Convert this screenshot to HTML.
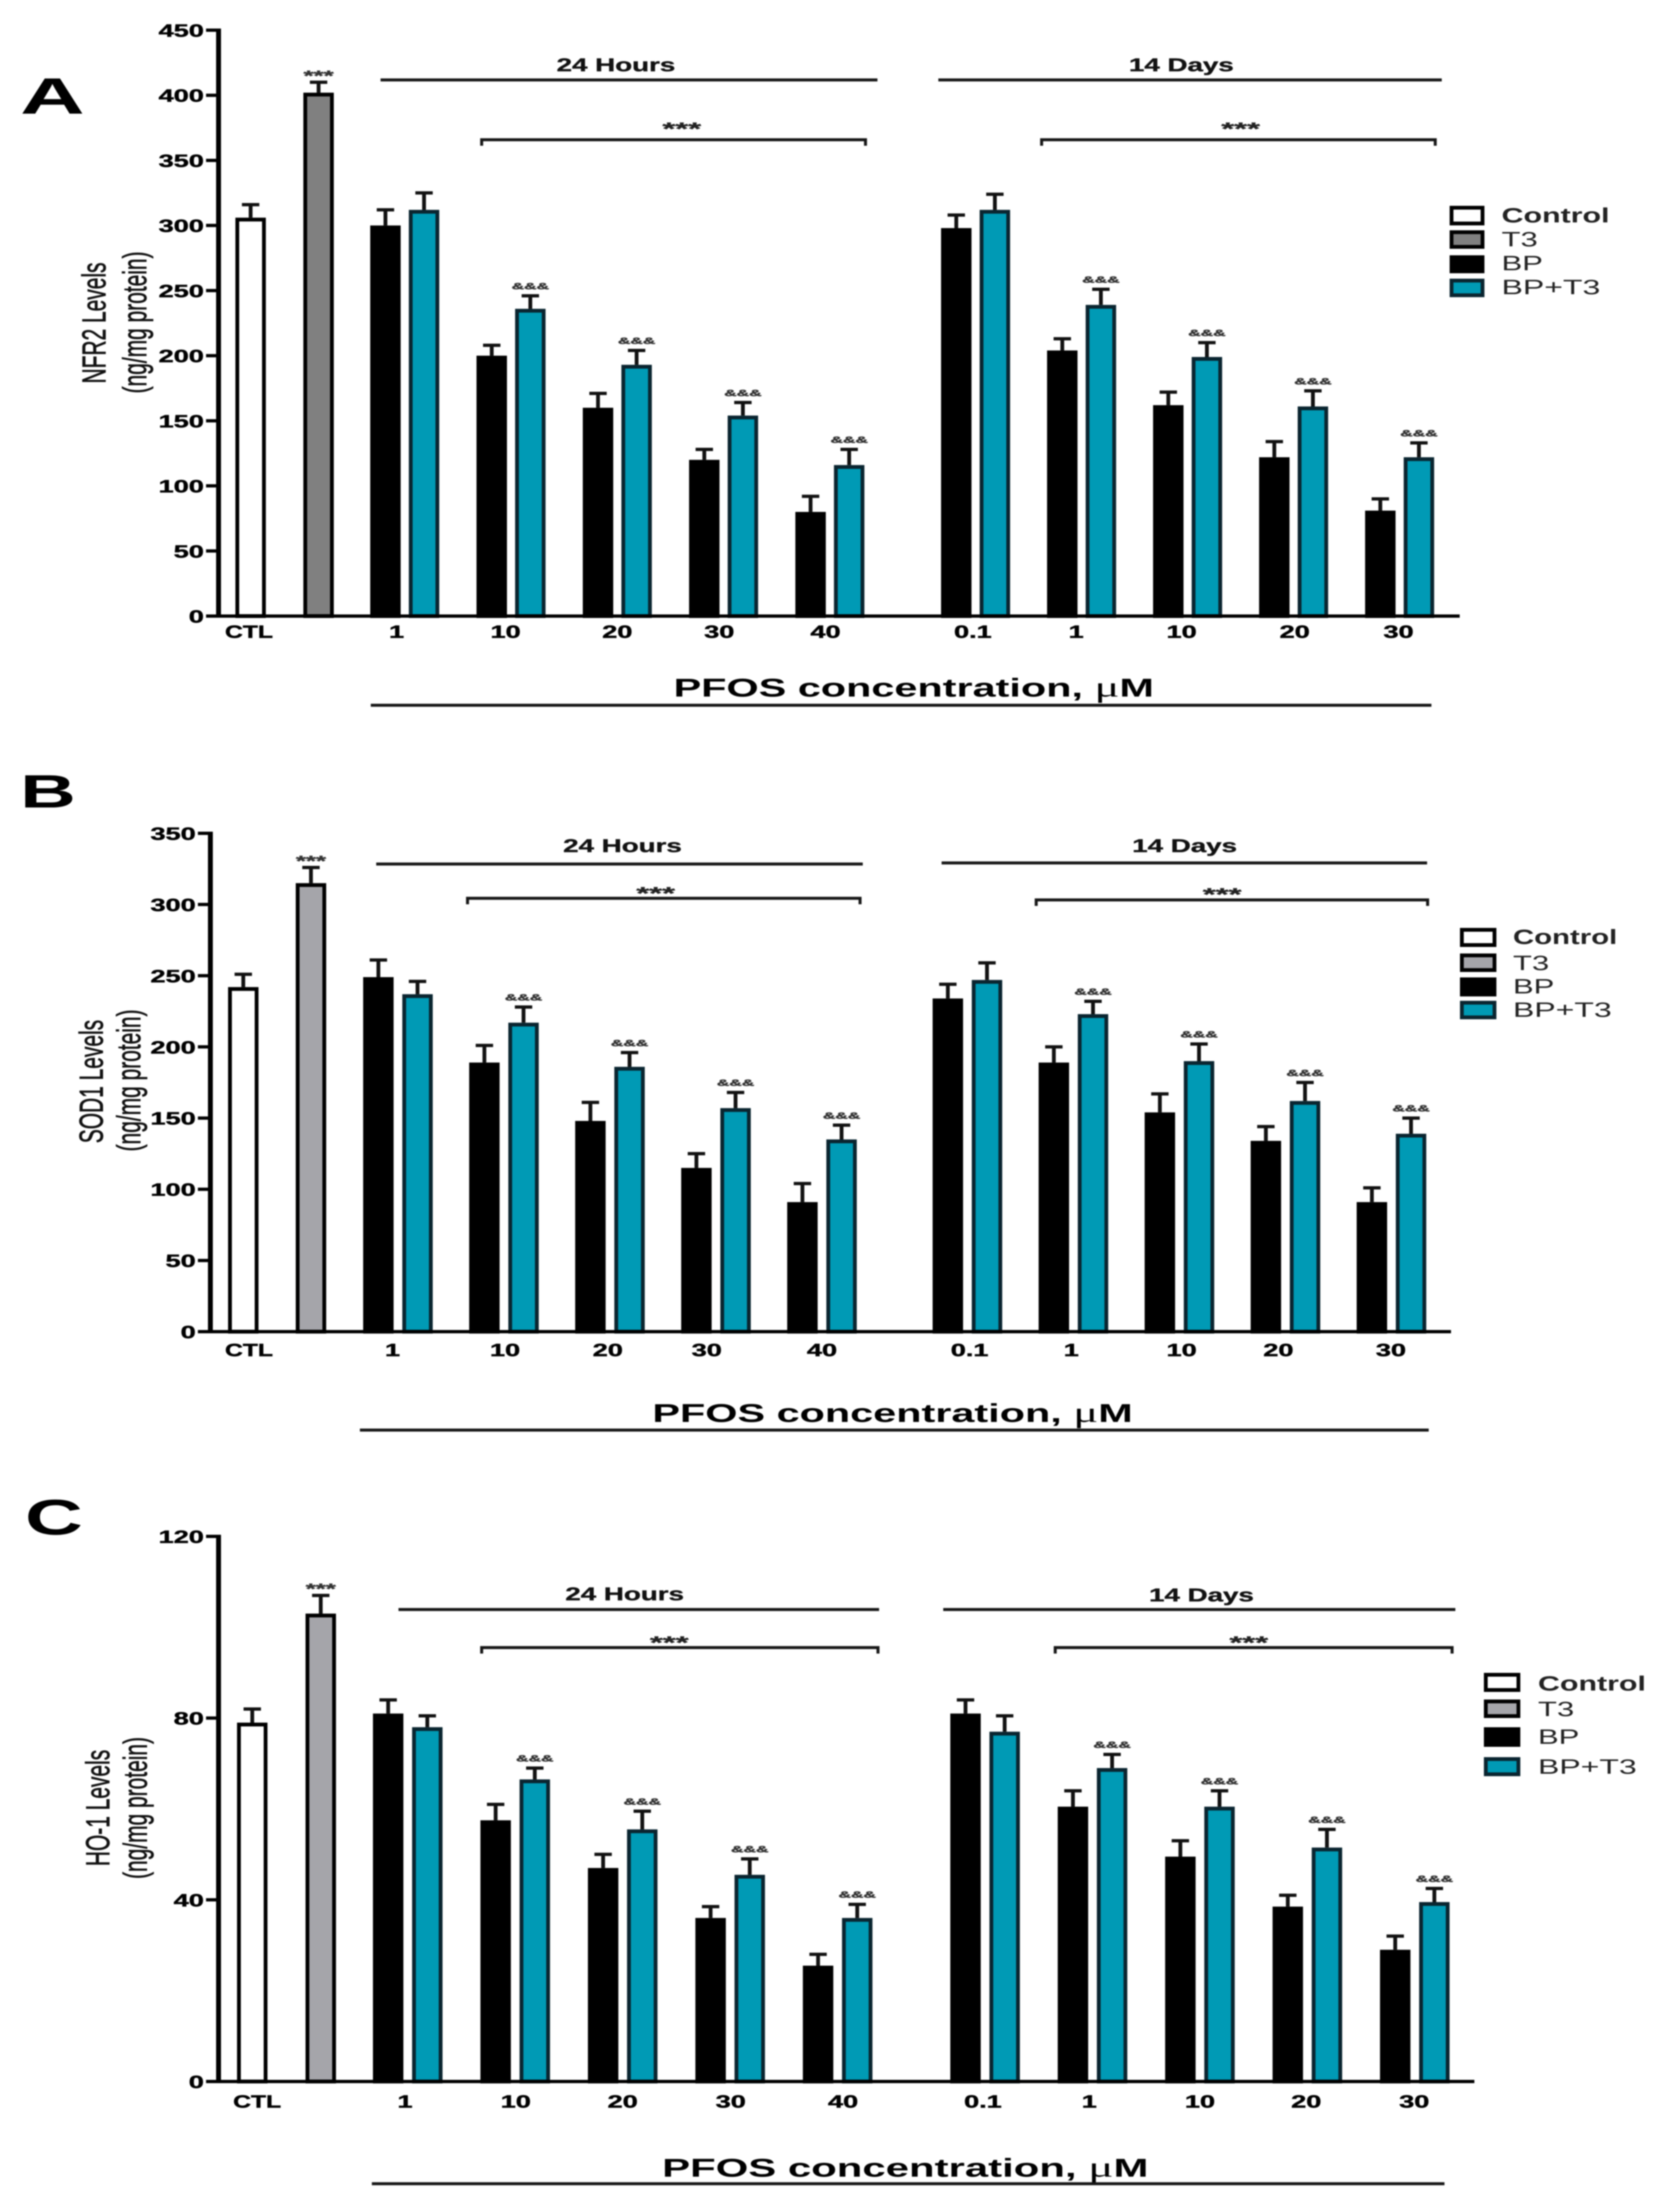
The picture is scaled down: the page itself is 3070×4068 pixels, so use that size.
<!DOCTYPE html>
<html lang="en">
<head>
<meta charset="utf-8">
<title>NFR2, SOD1 and HO-1 levels by PFOS concentration</title>
<style>
html,body{margin:0;padding:0;background:#fff;}
#figure{display:block;width:3070px;height:4068px;filter:blur(1.3px);font-family:"Liberation Sans",sans-serif;}
.b{font-weight:bold;}
.hd{font-size:34px;font-weight:bold;fill:#111;stroke:#111;stroke-width:.6px;text-anchor:middle;}
.st{font-size:32px;font-weight:bold;fill:#222;stroke:#222;stroke-width:.6px;text-anchor:middle;}
.pf{font-size:47px;font-weight:bold;}
.mu{font-family:"Liberation Serif",serif;font-weight:normal;font-size:53px;}
.yt{font-size:38.5px;text-anchor:middle;fill:#111;stroke:#111;stroke-width:.7px;}
.lg{font-size:38px;fill:#222;}
.rule{stroke:#161616;stroke-width:5.5;fill:none;}
.letter{font-weight:bold;fill:#000;}
</style>
</head>
<body>
<svg id="figure" xmlns="http://www.w3.org/2000/svg" width="3070" height="4068" viewBox="0 0 3070 4068">
<rect width="3070" height="4068" fill="#fff"/>

<g id="panel-a">
  <text class="letter" font-size="94" transform="translate(37,209) scale(1.75,1)">A</text>
  <text class="yt" transform="translate(194,594) scale(1.6,1) rotate(-90)">NFR2 Levels</text>
  <text class="yt" transform="translate(269,593) scale(1.6,1) rotate(-90)">(ng/mg protein)</text>
  <text class="hd" transform="translate(1133,131) scale(1.5,1)">24 Hours</text>
  <text class="hd" transform="translate(2173,131) scale(1.5,1)">14 Days</text>
  <line class="rule" x1="700" y1="147" x2="1614" y2="147"/>
  <line class="rule" x1="1726" y1="147" x2="2652" y2="147"/>
  <path class="rule" d="M886 268V257H1592V268"/>
  <path class="rule" d="M1916 268V257H2640V268"/>
  <text class="st" transform="translate(1254,248) scale(1.9,1)">***</text>
  <text class="st" transform="translate(2282,248) scale(1.9,1)">***</text>
  <text class="pf" transform="translate(1239,1281) scale(1.62,1)">PFOS concentration, <tspan class="mu">μ</tspan>M</text>
  <line class="rule" x1="682" y1="1297" x2="2633" y2="1297"/>
  <g>
    <rect x="2670" y="382" width="57" height="29" fill="#fff" stroke="#000" stroke-width="7"/>
    <rect x="2670" y="427" width="57" height="27" fill="#808080" stroke="#000" stroke-width="7"/>
    <rect x="2670" y="473" width="57" height="26" fill="#000" stroke="#000" stroke-width="7"/>
    <rect x="2670" y="516" width="57" height="27" fill="#009ab5" stroke="#0a2530" stroke-width="7"/>
    <text class="lg b" fill="#000" transform="translate(2762,409) scale(1.47,1)">Control</text>
    <text class="lg" transform="translate(2762,453) scale(1.5,1)">T3</text>
    <text class="lg" transform="translate(2762,497) scale(1.5,1)">BP</text>
    <text class="lg" transform="translate(2762,541) scale(1.55,1)">BP+T3</text>
  </g>
</g>

<g id="panel-b">
  <text class="letter" font-size="86" transform="translate(37,1485) scale(1.65,1)">B</text>
  <text class="yt" transform="translate(189,1989) scale(1.6,1) rotate(-90)">SOD1 Levels</text>
  <text class="yt" transform="translate(258,1987) scale(1.6,1) rotate(-90)">(ng/mg protein)</text>
  <text class="hd" transform="translate(1145,1567) scale(1.5,1)">24 Hours</text>
  <text class="hd" transform="translate(2179,1567) scale(1.5,1)">14 Days</text>
  <line class="rule" x1="692" y1="1589" x2="1587" y2="1589"/>
  <line class="rule" x1="1732" y1="1587" x2="2625" y2="1587"/>
  <path class="rule" d="M860 1663V1652H1582V1663"/>
  <path class="rule" d="M1906 1666V1655H2626V1666"/>
  <text class="st" transform="translate(1206,1654) scale(1.9,1)">***</text>
  <text class="st" transform="translate(2248,1656) scale(1.9,1)">***</text>
  <text class="pf" transform="translate(1200,2615) scale(1.62,1)">PFOS concentration, <tspan class="mu">μ</tspan>M</text>
  <line class="rule" x1="662" y1="2630" x2="2628" y2="2630"/>
  <g>
    <rect x="2689" y="1710" width="60" height="28" fill="#fff" stroke="#000" stroke-width="7"/>
    <rect x="2689" y="1757" width="60" height="27" fill="#a5a5aa" stroke="#000" stroke-width="7"/>
    <rect x="2689" y="1801" width="60" height="28" fill="#000" stroke="#000" stroke-width="7"/>
    <rect x="2689" y="1844" width="60" height="27" fill="#009ab5" stroke="#0a2530" stroke-width="7"/>
    <text class="lg b" fill="#000" transform="translate(2783,1736) scale(1.42,1)">Control</text>
    <text class="lg" transform="translate(2783,1784) scale(1.5,1)">T3</text>
    <text class="lg" transform="translate(2783,1827) scale(1.5,1)">BP</text>
    <text class="lg" transform="translate(2783,1870) scale(1.55,1)">BP+T3</text>
  </g>
</g>

<g id="panel-c">
  <text class="letter" font-size="92" transform="translate(46,2822) scale(1.6,1)">C</text>
  <text class="yt" transform="translate(201,3325) scale(1.6,1) rotate(-90)">HO-1 Levels</text>
  <text class="yt" transform="translate(270,3325) scale(1.6,1) rotate(-90)">(ng/mg protein)</text>
  <text class="hd" transform="translate(1149,2943) scale(1.5,1)">24 Hours</text>
  <text class="hd" transform="translate(2210,2945) scale(1.5,1)">14 Days</text>
  <line class="rule" x1="733" y1="2960" x2="1617" y2="2960"/>
  <line class="rule" x1="1735" y1="2960" x2="2677" y2="2960"/>
  <path class="rule" d="M886 3041V3030H1615V3041"/>
  <path class="rule" d="M1941 3041V3030H2671V3041"/>
  <text class="st" transform="translate(1231,3032) scale(1.9,1)">***</text>
  <text class="st" transform="translate(2297,3032) scale(1.9,1)">***</text>
  <text class="pf" transform="translate(1218,4003) scale(1.64,1)">PFOS concentration, <tspan class="mu">μ</tspan>M</text>
  <line class="rule" x1="684" y1="4016" x2="2657" y2="4016"/>
  <g>
    <rect x="2733" y="3080" width="60" height="28" fill="#fff" stroke="#000" stroke-width="7"/>
    <rect x="2733" y="3129" width="60" height="27" fill="#a5a5aa" stroke="#000" stroke-width="7"/>
    <rect x="2733" y="3180" width="60" height="29" fill="#000" stroke="#000" stroke-width="7"/>
    <rect x="2733" y="3235" width="60" height="28" fill="#009ab5" stroke="#0a2530" stroke-width="7"/>
    <text class="lg b" fill="#000" transform="translate(2829,3109) scale(1.47,1)">Control</text>
    <text class="lg" transform="translate(2829,3156) scale(1.5,1)">T3</text>
    <text class="lg" transform="translate(2829,3207) scale(1.5,1)">BP</text>
    <text class="lg" transform="translate(2829,3262) scale(1.55,1)">BP+T3</text>
  </g>
</g>
</svg>

<script>
const doseLabels = ['1', '10', '20', '30', '40', '0.1', '1', '10', '20', '30'];
const ctlLabel = 'CTL';
const comboSignificant = [0, 1, 1, 1, 1, 0, 1, 1, 1, 1];

const nfr2Ticks = [0, 50, 100, 150, 200, 250, 300, 350, 400, 450];
const nfr2Control = 306;
const nfr2ControlErr = 10;
const nfr2T3 = 402;
const nfr2T3Err = 8;
const nfr2BP = [300, 200, 160, 120, 80, 298, 204, 162, 122, 81];
const nfr2BPErr = [12, 8, 11, 8, 12, 10, 9, 10, 12, 9];
const nfr2Combo = [312, 236, 193, 154, 116, 312, 239, 199, 161, 122];
const nfr2ComboErr = [13, 10, 11, 10, 12, 12, 12, 11, 12, 11];

const sod1Ticks = [0, 50, 100, 150, 200, 250, 300, 350];
const sod1Control = 242;
const sod1ControlErr = 9;
const sod1T3 = 315;
const sod1T3Err = 11;
const sod1BP = [249, 189, 148, 115, 91, 234, 189, 154, 134, 91];
const sod1BPErr = [12, 12, 13, 10, 13, 10, 11, 13, 10, 10];
const sod1Combo = [237, 217, 186, 157, 135, 247, 223, 190, 162, 139];
const sod1ComboErr = [9, 11, 10, 11, 10, 12, 9, 12, 13, 11];

const ho1Ticks = [0, 40, 80, 120];
const ho1Control = 79;
const ho1ControlErr = 3;
const ho1T3 = 103;
const ho1T3Err = 4;
const ho1BP = [81, 57.5, 47, 36, 25.5, 81, 60.5, 49.5, 38.5, 29];
const ho1BPErr = [3, 3.5, 3, 2.5, 2.5, 3, 3.5, 3.5, 2.5, 3];
const ho1Combo = [78, 66.5, 55.5, 45.5, 36, 77, 69, 60.5, 51.5, 39.5];
const ho1ComboErr = [2.5, 2.5, 4, 3.5, 3, 3.5, 3, 3.5, 4, 3];

const SVGNS = 'http://www.w3.org/2000/svg';

function shape(parent, tag, name, attrs) {
  const el = document.createElementNS(SVGNS, tag);
  for (const k in attrs) el.setAttribute(k, attrs[k]);
  
  
  parent.appendChild(el);
  return el;
}

function label(parent, name, str, x, y, size, sx, anchor, fill) {
  const el = shape(parent, 'text', name, {
    transform: 'translate(' + x + ',' + y + ') scale(' + sx + ',1)',
    'font-size': size, 'font-weight': 'bold', 'text-anchor': anchor, fill: fill,
    stroke: fill, 'stroke-width': 0.7
  });
  el.textContent = str;
  return el;
}

function drawPanel(p) {
  const root = document.getElementById(p.id);
  const yMax = p.ticks[p.ticks.length - 1];
  const yOf = function (v) { return p.y0 - v * (p.y0 - p.yTop) / yMax; };
  const groupX = function (i) {
    return i < 5 ? p.g1 + p.step1 * i : p.g2 + p.step2 * (i - 5);
  };

  function bar(name, cx, value, err, fill, stroke) {
    const w = 56, sw = 7;
    const top = yOf(value), cap = yOf(value + err);
    shape(root, 'line', name + '-error-stem', { x1: cx, x2: cx, y1: top, y2: cap, stroke: '#111', 'stroke-width': 7 });
    shape(root, 'line', name + '-error-cap', { x1: cx - 16, x2: cx + 16, y1: cap, y2: cap, stroke: '#111', 'stroke-width': 6 });
    shape(root, 'rect', name, {
      x: cx - w / 2 + sw / 2, y: top + sw / 2, width: w - sw,
      height: Math.max(0, p.y0 - top - sw / 2),
      fill: fill, stroke: stroke, 'stroke-width': sw
    });
    return cap;
  }

  const capC = bar('bar-control', p.ctl, p.control, p.controlErr, '#fff', '#000');
  const capT = bar('bar-t3', p.t3, p.t3Value, p.t3Err, p.t3Fill, '#000');
  label(root, 'significance-t3', '***', p.t3, capT - 3, 27, 1.75, 'middle', '#333');

  p.bp.forEach(function (v, i) {
    bar('bar-bp-' + doseLabels[i], groupX(i), v, p.bpErr[i], '#000', '#000');
  });
  p.combo.forEach(function (v, i) {
    const cx = groupX(i) + p.offset;
    const cap = bar('bar-bp-t3-' + doseLabels[i], cx, v, p.comboErr[i], '#009ab5', '#0a2530');
    if (comboSignificant[i]) {
      label(root, 'significance-bp-t3-' + doseLabels[i], '&&&', cx, cap - 12, 17, 1.87, 'middle', '#333');
    }
  });

  shape(root, 'line', 'x-axis-line', { x1: p.axisX - 4, x2: p.xEnd, y1: p.y0, y2: p.y0, stroke: '#000', 'stroke-width': 6 });
  shape(root, 'line', 'y-axis-line', { x1: p.axisX, x2: p.axisX, y1: p.yTop - 3, y2: p.y0 + 3, stroke: '#000', 'stroke-width': 9 });

  p.ticks.forEach(function (t) {
    const y = yOf(t);
    shape(root, 'line', 'y-tick-' + t, { x1: p.axisX - 23, x2: p.axisX, y1: y, y2: y, stroke: '#000', 'stroke-width': 6 });
    label(root, 'y-tick-label-' + t, String(t), p.axisX - 27, y + 12, 32, 1.56, 'end', '#000');
  });

  label(root, 'x-tick-label-ctl', ctlLabel, p.ctlLabelX, p.xLabelY, 32, 1.42, 'middle', '#000');
  doseLabels.forEach(function (d, i) {
    const x = groupX(i) + p.offset / 2 + p.labelShift[i];
    label(root, 'x-tick-label-' + d, d, x, p.xLabelY, 32, 1.56, 'middle', '#000');
  });
}

drawPanel({
  id: 'panel-a', ticks: nfr2Ticks, control: nfr2Control, controlErr: nfr2ControlErr,
  t3Value: nfr2T3, t3Err: nfr2T3Err, bp: nfr2BP, bpErr: nfr2BPErr, combo: nfr2Combo, comboErr: nfr2ComboErr,
  y0: 1133, yTop: 55.5, axisX: 402, xEnd: 2685, ctl: 461, t3: 586, g1: 709, step1: 195.5, g2: 1759, step2: 195,
  offset: 71, t3Fill: '#808080', xLabelY: 1173, ctlLabelX: 458,
  labelShift: [-15, -10, 0, -8, -8, -5, -10, -11, 2, -2]
});
drawPanel({
  id: 'panel-b', ticks: sod1Ticks, control: sod1Control, controlErr: sod1ControlErr,
  t3Value: sod1T3, t3Err: sod1T3Err, bp: sod1BP, bpErr: sod1BPErr, combo: sod1Combo, comboErr: sod1ComboErr,
  y0: 2449, yTop: 1532.5, axisX: 387, xEnd: 2669, ctl: 447.5, t3: 572, g1: 696, step1: 195, g2: 1743.5, step2: 195,
  offset: 72, t3Fill: '#a5a5aa', xLabelY: 2494, ctlLabelX: 458,
  labelShift: [-10, 2, -4, -17, 0, 4, -4, 4, -13, -1]
});
drawPanel({
  id: 'panel-c', ticks: ho1Ticks, control: ho1Control, controlErr: ho1ControlErr,
  t3Value: ho1T3, t3Err: ho1T3Err, bp: ho1BP, bpErr: ho1BPErr, combo: ho1Combo, comboErr: ho1ComboErr,
  y0: 3828, yTop: 2825.5, axisX: 402, xEnd: 2712, ctl: 464, t3: 590, g1: 714, step1: 197.7, g2: 1776, step2: 197.6,
  offset: 72, t3Fill: '#a5a5aa', xLabelY: 3876, ctlLabelX: 473,
  labelShift: [-5, 1, 0, 1, 10, -4, -6, 0, -2, -1]
});
</script>
</body>
</html>
